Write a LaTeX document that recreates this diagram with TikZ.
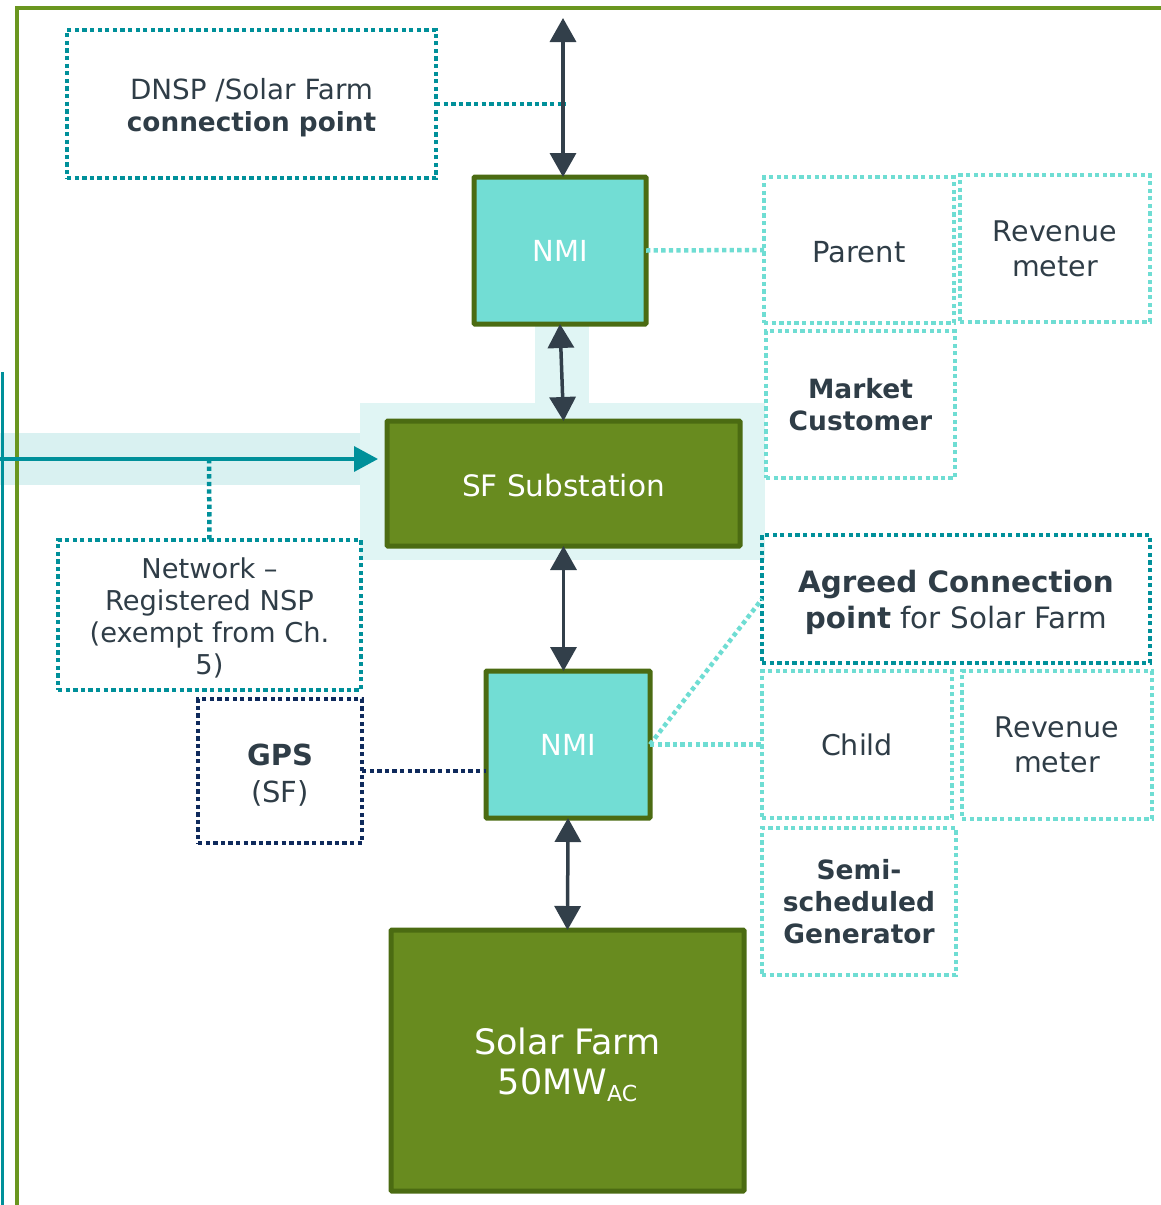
\documentclass[tikz,border=0pt]{standalone}
\usepackage{fontspec}
\setmainfont{DejaVu Sans}
\usetikzlibrary{arrows.meta}
\definecolor{framegreen}{HTML}{6A961F}
\definecolor{boxgreen}{HTML}{688B1F}
\definecolor{boxborder}{HTML}{4B6B12}
\definecolor{nmifill}{HTML}{72DDD4}
\definecolor{arrowdk}{HTML}{323F4A}
\definecolor{txtc}{HTML}{2F3D47}
\definecolor{tealdk}{HTML}{00909A}
\definecolor{turq}{HTML}{6FDDD3}
\definecolor{navy}{HTML}{0F2A5C}
\definecolor{bandc}{HTML}{E0F5F4}
\definecolor{bandh}{HTML}{D9F1F1}
\newcommand\upstrut[1]{\rule{0pt}{#1}}
\tikzset{
  fs/.style 2 args={font=\fontsize{#1}{#2}\selectfont},
  txt/.style={text=txtc, align=center, inner sep=0pt, outer sep=0pt},
  dotteal/.style={draw=tealdk, line width=4.5pt, dash pattern=on 4.3pt off 3.3pt},
  dotturq/.style={draw=turq, line width=4.5pt, dash pattern=on 4.3pt off 3.3pt},
  dotnavy/.style={draw=navy, line width=4.5pt, dash pattern=on 4.3pt off 3.3pt},
  greenbox/.style={fill=boxgreen, draw=boxborder, line width=5pt, rounded corners=1pt, text=white, align=center, inner sep=0pt, outer sep=0pt},
  nmibox/.style={fill=nmifill, draw=boxborder, line width=5pt, rounded corners=1pt, text=white, align=center, inner sep=0pt, outer sep=0pt},
  dbl/.style={draw=arrowdk, line width=3.5pt, {Triangle[width=26pt,length=24pt]}-{Triangle[width=26pt,length=24pt]}},
  tealarrow/.style={draw=tealdk, line width=3.5pt, -{Triangle[width=25pt,length=24pt]}},
}
\begin{document}
\begin{tikzpicture}[x=1pt,y=-1pt]
\useasboundingbox (0,0) rectangle (1161,1205);
% background bands
\fill[bandh] (0,433) rectangle (380,485);
\fill[bandc] (360,403) rectangle (765,560);
\fill[bandc] (535,325) rectangle (589,421);
% frame lines
\draw[framegreen, line width=4.5pt] (17,1205) -- (17,8) -- (1161,8);
\draw[tealdk, line width=3pt] (2,372) -- (2,1205);

% nodes
\node[txt, dotteal, fs={27.8}{32}, minimum width=369pt, minimum height=148pt] (dnsp) at (251.5,104)
  {\upstrut{29pt}DNSP /Solar Farm\\{\fontsize{26.3}{32}\selectfont\bfseries connection point}};
\node[nmibox, fs={29}{34}, minimum width=172pt, minimum height=147pt] (nmi1) at (560,250.5) {NMI};
\node[txt, dotturq, fs={29}{34}, minimum width=190pt, minimum height=146pt] (parent) at (859,250) {\upstrut{26pt}Parent};
\node[txt, dotturq, fs={28.5}{35}, minimum width=190pt, minimum height=147pt] (rev1) at (1055,248.5) {Revenue\\meter};
\node[txt, dotturq, fs={26.5}{32}, minimum width=189pt, minimum height=147pt] (mkt) at (860.5,404.5) {\textbf{Market}\\\textbf{Customer}};
\node[greenbox, fs={29.5}{34}, minimum width=353pt, minimum height=125pt] (sub) at (563.5,483.5) {\upstrut{26.5pt}SF Substation};
\node[txt, dotteal, fs={27.3}{32}, minimum width=303pt, minimum height=150pt] (net) at (209.5,615)
  {\upstrut{26.7pt}Network --\\Registered NSP\\(exempt from Ch.\\5)};
\node[txt, dotnavy, fs={29}{37}, minimum width=164pt, minimum height=144pt] (gps) at (280,771) {\upstrut{30pt}\textbf{GPS}\\(SF)};
\node[nmibox, fs={29}{34}, minimum width=164pt, minimum height=147pt] (nmi2) at (568,744.5) {NMI};
\node[txt, dotteal, fs={29.4}{36}, minimum width=388pt, minimum height=128pt] (agreed) at (956,599)
  {\upstrut{30pt}\textbf{Agreed Connection}\\\textbf{point} for Solar Farm};
\node[txt, dotturq, fs={28.5}{34}, minimum width=190pt, minimum height=147pt] (child) at (857,744.5) {Child};
\node[txt, dotturq, fs={28.5}{35}, minimum width=190pt, minimum height=148pt] (rev2) at (1057,745) {Revenue\\meter};
\node[txt, dotturq, fs={26.5}{32}, minimum width=194pt, minimum height=147pt] (semi) at (859,901.5)
  {\textbf{Semi-}\\\textbf{scheduled}\\\textbf{Generator}};
\node[greenbox, fs={35}{40}, minimum width=353pt, minimum height=261pt] (solar) at (567.5,1060.5)
  {\upstrut{34.6pt}Solar Farm\\50MW\raisebox{-7pt}{\fontsize{22}{22}\selectfont AC}};

% free ends
\coordinate (topend) at (563,18);
\coordinate (tin) at (0,459);
\coordinate (tj) at (209,459);

% connectors
\draw[dotteal] (dnsp.east) -- (dnsp.east -| 566,0);
\draw[dbl] (topend) -- (topend |- nmi1.north);
\draw[dotturq] (nmi1.east) -- (parent.west);
\draw[dbl] (nmi1.south) -- (sub.north);
\draw[tealarrow, shorten >=9pt] (tin) -- (sub.west |- tin);
\draw[dotteal] (tj) -- (net.north);
\draw[dbl] (sub.south) -- (sub.south |- nmi2.north);
\draw[dotnavy] (gps.east) -- (gps.east -| nmi2.west);
\draw[dotturq] (nmi2.east) -- (child.west);
\draw[dotturq] (nmi2.east) -- (agreed.west);
\draw[dbl] (nmi2.south) -- (solar.north);
\end{tikzpicture}
\end{document}
